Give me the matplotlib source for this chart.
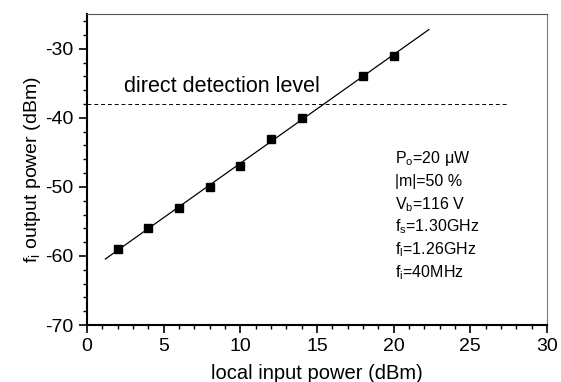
import matplotlib
matplotlib.use("Agg")
import matplotlib.pyplot as plt
import numpy as np
from matplotlib.ticker import MultipleLocator

plt.rcParams['font.family'] = ['Liberation Sans', 'DejaVu Sans']
plt.rcParams['axes.unicode_minus'] = False
plt.rcParams['mathtext.fontset'] = 'custom'
plt.rcParams['mathtext.rm'] = 'Liberation Sans'
plt.rcParams['mathtext.it'] = 'Liberation Sans:italic'

x_pts = [2, 4, 6, 8, 10, 12, 14, 18, 20]
y_pts = [-59, -56, -53, -50, -47, -43, -40, -34, -31]
fit_x = [1.2, 22.3]
detect_level = -38
detect_x = [0, 27.4]
params = [r"P$_{\rm o}$=20 $\rm\mu$W", "|m|=50 %", r"V$_{\rm b}$=116 V",
          r"f$_{\rm s}$=1.30GHz", r"f$_{\rm l}$=1.26GHz", r"f$_{\rm i}$=40MHz"]

fig = plt.figure(figsize=(5.61, 3.82), dpi=100)
ax = fig.add_axes([0.155, 0.149, 0.82, 0.814])

coef = np.polyfit(x_pts, y_pts, 1)
fx = np.array(fit_x)
ax.plot(fx, np.polyval(coef, fx), color='black', lw=0.9)
ax.plot(x_pts, y_pts, 's', color='black', ms=5.5)
ax.plot(detect_x, [detect_level, detect_level], color='black', lw=0.7, ls=(0, (4, 3)))
ax.text(2.4, -36.2, "direct detection level", fontsize=15.5)

for i, t in enumerate(params):
    ax.text(20.1, -45.9 - i * 3.3, t, fontsize=11.5, va='center')

ax.set_xlim(0, 30)
ax.set_ylim(-70, -25)
ax.xaxis.set_major_locator(MultipleLocator(5))
ax.xaxis.set_minor_locator(MultipleLocator(1))
ax.yaxis.set_major_locator(MultipleLocator(10))
ax.yaxis.set_minor_locator(MultipleLocator(2))
ax.set_yticks([-70, -60, -50, -40, -30])
ax.tick_params(which='major', direction='out', length=6, width=1.2, labelsize=14)
ax.tick_params(which='minor', direction='out', length=3, width=1)
ax.spines['left'].set_linewidth(1.5)
ax.spines['bottom'].set_linewidth(1.5)
ax.spines['top'].set_linewidth(0.8)
ax.spines['right'].set_linewidth(0.8)
ax.spines['top'].set_color('#555555')
ax.spines['right'].set_color('#777777')
ax.set_xlabel("local input power (dBm)", fontsize=14.5, labelpad=6)
ax.set_ylabel(r"f$_{\rm i}$ output power (dBm)", fontsize=14, labelpad=2)

fig.savefig("out.png", dpi=100)
